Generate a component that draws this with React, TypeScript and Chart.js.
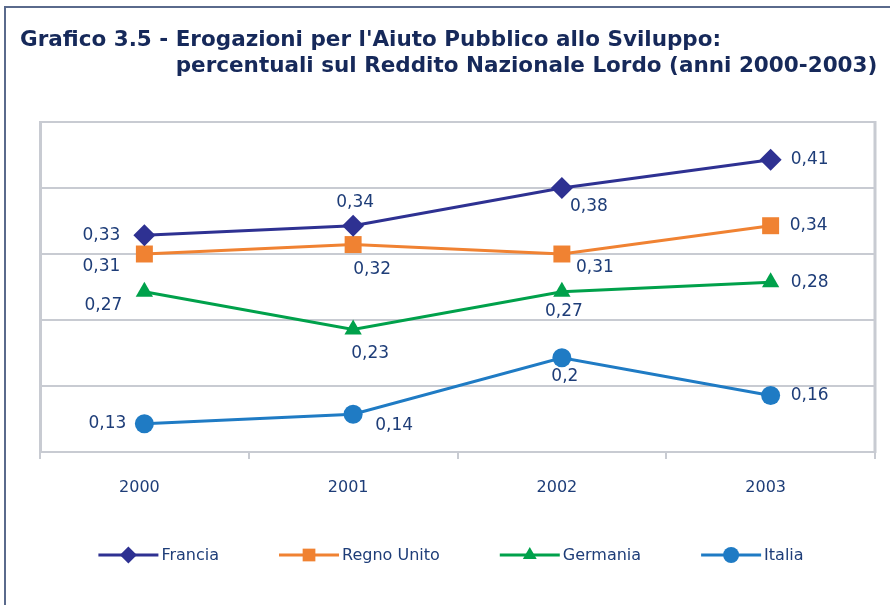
import React, { useEffect, useRef } from 'react';
import { Chart, registerables } from 'chart.js';
import { drawPoint } from 'chart.js/helpers';

Chart.register(...registerables);

// ---- data ----
const years = ['2000', '2001', '2002', '2003'];
const francia = [0.33, 0.34, 0.38, 0.41];
const regnoUnito = [0.31, 0.32, 0.31, 0.34];
const germania = [0.27, 0.23, 0.27, 0.28];
const italia = [0.13, 0.14, 0.2, 0.16];
const seriesNames = ['Francia', 'Regno Unito', 'Germania', 'Italia'];

const titlePrefix = 'Grafico 3.5 - ';
const titleLine1 = "Erogazioni per l'Aiuto Pubblico allo Sviluppo:";
const titleLine2 = 'percentuali sul Reddito Nazionale Lordo (anni 2000-2003)';

const yMin = 0.1;
const yMax = 0.45;
const yStep = 0.07;

// ---- styles ----
const colors = ['#2e3192', '#f08232', '#00a14b', '#1f7bc4'];
const pointStyles = ['rectRot', 'rect', 'triangle', 'circle'];
const pointRadii = [11, 12, 10, 9.5];
const legendRadii = [8.5, 9, 8, 8];
const textColor = '#1e3d78';
const titleColor = '#16295a';
const gridColor = '#c8cbd2';
const frameColor = '#5a6a8c';
const FONT = '"DejaVu Sans", Verdana, sans-serif';

// label placement offsets (label centre relative to its point)
const labelOffsets = [
  [[-43, 0], [2, -23], [27, 19], [39, 0]],
  [[-43, 13], [19, 25], [33, 14], [38, 0]],
  [[-41, 14], [17, 24], [2, 20], [39, 0]],
  [[-37, 0], [41, 11], [3, 19], [39, 0]],
];

const fmt = (v: number) => String(v).replace('.', ',');

const framePlugin = {
  id: 'frameTitle',
  beforeDraw(chart: any) {
    const ctx = chart.ctx;
    ctx.save();
    ctx.fillStyle = '#ffffff';
    ctx.fillRect(0, 0, chart.width, chart.height);
    ctx.strokeStyle = frameColor;
    ctx.lineWidth = 2;
    ctx.beginPath();
    ctx.moveTo(5, chart.height);
    ctx.lineTo(5, 7);
    ctx.lineTo(chart.width, 7);
    ctx.stroke();
    ctx.fillStyle = titleColor;
    ctx.font = `bold 21.5px ${FONT}`;
    ctx.textBaseline = 'middle';
    ctx.textAlign = 'left';
    const x0 = 20;
    ctx.fillText(titlePrefix + titleLine1, x0, 40);
    const indent = ctx.measureText(titlePrefix).width;
    ctx.fillText(titleLine2, x0 + indent, 66);
    ctx.restore();
  },
  afterDraw(chart: any) {
    const ctx = chart.ctx;
    const area = chart.chartArea;
    ctx.save();
    // right border of plot area
    ctx.strokeStyle = gridColor;
    ctx.lineWidth = 3;
    ctx.beginPath();
    ctx.moveTo(area.right, area.top - 1);
    ctx.lineTo(area.right, area.bottom + 1);
    ctx.stroke();

    // legend
    ctx.font = `16px ${FONT}`;
    ctx.textBaseline = 'middle';
    ctx.textAlign = 'left';
    const lineLen = 60;
    const textGap = 3;
    const gap = 60;
    const widths = seriesNames.map((n) => ctx.measureText(n).width);
    const total = widths.reduce((a, w) => a + lineLen + textGap + w, 0) + gap * (seriesNames.length - 1);
    let x = 451 - total / 2;
    const y = 555;
    seriesNames.forEach((name, i) => {
      ctx.strokeStyle = colors[i];
      ctx.lineWidth = 3;
      ctx.beginPath();
      ctx.moveTo(x, y);
      ctx.lineTo(x + lineLen, y);
      ctx.stroke();
      ctx.fillStyle = colors[i];
      ctx.strokeStyle = colors[i];
      drawPoint(ctx, { pointStyle: pointStyles[i], radius: legendRadii[i], rotation: 0, borderWidth: 0 } as any, x + lineLen / 2, y);
      ctx.fillStyle = textColor;
      ctx.fillText(name, x + lineLen + textGap, y + 1);
      x += lineLen + textGap + widths[i] + gap;
    });
    ctx.restore();
  },
  afterDatasetsDraw(chart: any) {
    const ctx = chart.ctx;
    ctx.save();
    ctx.font = `17px ${FONT}`;
    ctx.fillStyle = textColor;
    ctx.textAlign = 'center';
    ctx.textBaseline = 'middle';
    chart.data.datasets.forEach((ds: any, di: number) => {
      const meta = chart.getDatasetMeta(di);
      meta.data.forEach((pt: any, pi: number) => {
        const [dx, dy] = labelOffsets[di][pi];
        ctx.fillText(fmt(ds.data[pi]), pt.x + dx, pt.y + dy);
      });
    });
    ctx.restore();
  },
};

export default function App() {
  const ref = useRef<HTMLCanvasElement>(null);
  useEffect(() => {
    if (!ref.current) return;
    const series = [francia, regnoUnito, germania, italia];
    const chart = new Chart(ref.current, {
      type: 'line',
      data: {
        labels: years,
        datasets: series.map((d, i) => ({
          label: seriesNames[i],
          data: d,
          borderColor: colors[i],
          backgroundColor: colors[i],
          borderWidth: 3,
          pointStyle: pointStyles[i] as any,
          pointRadius: pointRadii[i],
          pointBorderWidth: 0,
          pointBackgroundColor: colors[i],
          tension: 0,
          fill: false,
        })),
      },
      options: {
        responsive: false,
        maintainAspectRatio: false,
        animation: false,
        layout: { padding: { top: 122, left: 40, right: 15, bottom: 0 } },
        plugins: {
          legend: { display: false },
          title: { display: false },
          tooltip: { enabled: false },
        },
        scales: {
          x: {
            offset: true,
            grid: {
              display: true,
              offset: true,
              drawOnChartArea: false,
              drawTicks: true,
              tickLength: 7,
              color: gridColor,
              lineWidth: 2,
            },
            border: { display: true, color: gridColor, width: 2 },
            ticks: { color: textColor, font: { family: FONT, size: 16 }, padding: 19, labelOffset: -5 },
            afterFit: (s: any) => {
              s.height = 153;
            },
          },
          y: {
            min: yMin,
            max: yMax,
            ticks: { display: false, stepSize: yStep },
            grid: { color: gridColor, lineWidth: 2, drawTicks: false },
            border: { display: true, color: gridColor, width: 3 },
            afterFit: (s: any) => {
              s.width = 0;
            },
          },
        },
      },
      plugins: [framePlugin],
    });
    return () => chart.destroy();
  }, []);
  return (
    <div style={{ position: 'fixed', left: 0, top: 0, width: 890, height: 605, background: '#fff' }}>
      <canvas ref={ref} width={890} height={605} style={{ width: 890, height: 605 }} />
    </div>
  );
}
